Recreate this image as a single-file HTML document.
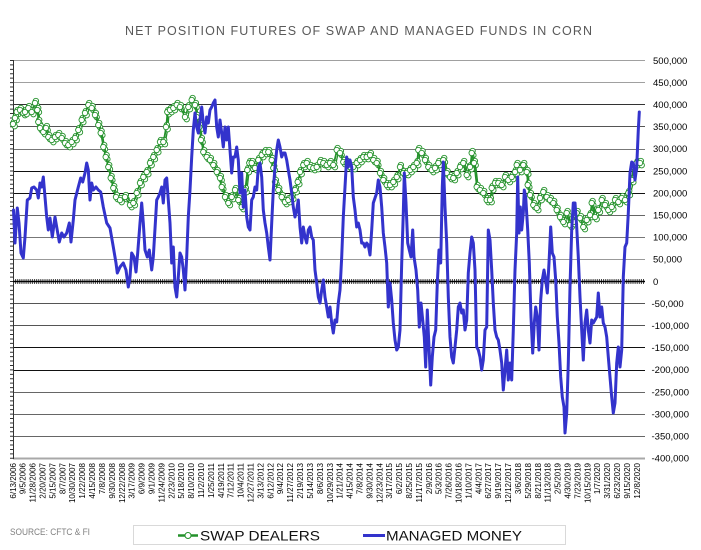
<!DOCTYPE html>
<html>
<head>
<meta charset="utf-8">
<style>
html,body{margin:0;padding:0;background:#fff;}
svg{display:block;}
text{font-family:"Liberation Sans",Arial,sans-serif;}
</style>
</head>
<body>
<svg width="701" height="550" viewBox="0 0 701 550" xmlns="http://www.w3.org/2000/svg" xmlns:xlink="http://www.w3.org/1999/xlink">
<defs>
<marker id="m" markerUnits="userSpaceOnUse" markerWidth="10" markerHeight="10" refX="5" refY="5" viewBox="0 0 10 10" overflow="visible">
<circle cx="5" cy="5" r="2.7" fill="#fff" stroke="#23912a" stroke-width="0.9"/>
</marker>
<polyline id="g" fill="none" stroke="#23912a" stroke-width="1.3" marker-start="url(#m)" marker-mid="url(#m)" marker-end="url(#m)" points="13,124 15,118 16.7,112 20,110 23.3,113 25,112 28.3,108 31.7,112 35,103 37.3,110 38.3,122 40,128 43.3,132 46,128 48.3,137 51.7,140 55,137 58.3,135 61.7,138 65,143 68.3,145 71.7,142 75,138 78.3,130 81.7,120 85,113 88.3,105 91.7,108 95,115 98.3,125 100.7,133 103.3,147 105.7,157 108.3,167 110.7,178 113.3,188 116,197 120,200 125,197 130,205 133.3,203 136.7,193 140,183 143.3,177 146.7,172 150,163 153.3,157 156.7,150 160,142 163.3,142 166,127 167.3,112 170,110 173.3,108 176.7,105 180,107 185,117 188.3,107 191.7,100 195,105 196.7,117 199.3,127 201,140 203.3,152 206.7,157 210,160 213.3,165 216.7,172 220,178 221.7,187 225,197 228.3,203 231.7,197 235,190 238.3,200 241.7,207 245,190 247.3,170 249.3,163 251.7,163 255,168 258.3,160 261.7,155 265,152 268.3,152 271.7,160 273.3,168 275,182 278.3,190 281.7,197 285,202 288.3,200 291.7,197 295,190 297.7,182 300,172 303.3,165 306.7,163 310,167 313.3,168 316.7,167 320,162 323.3,163 326.7,165 330,163 333.3,165 336.7,150 340,153 343.3,162 346.7,163 350,167 353.3,167 356.7,163 360,160 363.3,157 366.7,157 370,155 373.3,160 376.7,163 380,173 383.3,180 386.7,185 390,185 393.3,182 396.7,177 400,167 403.3,173 406.7,173 410,170 413.3,167 416.7,163 418.3,150 421.7,153 425,160 428.3,167 431.7,170 435,168 438.3,163 443.3,160 446.7,173 450,177 453.3,178 456.7,173 460,167 463.3,163 466.7,175 470,167 471.7,153 474,163 476.7,187 480,190 483.3,193 486.7,200 490,200 491.7,188 495,183 498.3,183 501.7,185 505,177 508.3,180 511.7,177 515,172 516.7,165 520,170 523.3,165 526.7,172 527.7,185 530,195 533.3,205 536.7,208 540,198 543.3,192 546.7,197 550,200 553.3,203 556.7,210 560,217 563.3,222 566.7,213 570,225 573.3,222 576.7,213 580,218 583.3,227 586.7,220 590,215 591.7,203 595,217 598.3,210 601.7,200 605,205 608.3,210 611.7,207 615,200 618.3,202 621.7,198 625,200 628.3,193 631.7,180 633.3,167 636.7,163 640,163"/>
</defs>
<rect width="701" height="550" fill="#fff"/>

<!-- Title -->
<text x="125" y="35" font-size="12.5" fill="#595959" textLength="467" lengthAdjust="spacing">NET POSITION FUTURES OF SWAP AND MANAGED FUNDS IN CORN</text>

<!-- gridlines -->
<g stroke-width="1" shape-rendering="crispEdges">
<line x1="13" x2="645" y1="60.5" y2="60.5" stroke="#a0a0a0"/>
<line x1="13" x2="645" y1="82.5" y2="82.5" stroke="#a0a0a0"/>
<line x1="13" x2="645" y1="104.5" y2="104.5" stroke="#333"/>
<line x1="13" x2="645" y1="126.5" y2="126.5" stroke="#555"/>
<line x1="13" x2="645" y1="149.5" y2="149.5" stroke="#777"/>
<line x1="13" x2="645" y1="171.5" y2="171.5" stroke="#111"/>
<line x1="13" x2="645" y1="193.5" y2="193.5" stroke="#111"/>
<line x1="13" x2="645" y1="215.5" y2="215.5" stroke="#666"/>
<line x1="13" x2="645" y1="237.5" y2="237.5" stroke="#777"/>
<line x1="13" x2="645" y1="259.5" y2="259.5" stroke="#999"/>
<line x1="13" x2="645" y1="303.5" y2="303.5" stroke="#555"/>
<line x1="13" x2="645" y1="325.5" y2="325.5" stroke="#555"/>
<line x1="13" x2="645" y1="347.5" y2="347.5" stroke="#111"/>
<line x1="13" x2="645" y1="370.5" y2="370.5" stroke="#111"/>
<line x1="13" x2="645" y1="392.5" y2="392.5" stroke="#666"/>
<line x1="13" x2="645" y1="414.5" y2="414.5" stroke="#666"/>
<line x1="13" x2="645" y1="436.5" y2="436.5" stroke="#666"/>
</g>
<line x1="13" x2="645" y1="458.5" y2="458.5" stroke="#a8a8a8" stroke-width="2"/>

<!-- left axis -->
<line x1="13.5" x2="13.5" y1="60" y2="459" stroke="#333" stroke-width="1"/>
<line x1="11.5" x2="11.5" y1="60" y2="459" stroke="#333" stroke-width="3" stroke-dasharray="1 3.42"/>

<!-- zero line with ticks -->
<line x1="13" x2="645" y1="281.5" y2="281.5" stroke="#444" stroke-width="5" stroke-dasharray="1 1.1"/>
<line x1="13" x2="645" y1="281.5" y2="281.5" stroke="#000" stroke-width="1.5"/>

<!-- right axis labels -->
<g font-size="9.5" fill="#000">
<text x="653" y="63.8">500,000</text>
<text x="653" y="85.9">450,000</text>
<text x="653" y="108">400,000</text>
<text x="653" y="130.1">350,000</text>
<text x="653" y="152.2">300,000</text>
<text x="653" y="174.3">250,000</text>
<text x="653" y="196.4">200,000</text>
<text x="653" y="218.5">150,000</text>
<text x="653" y="240.6">100,000</text>
<text x="653" y="262.7">50,000</text>
<text x="653" y="284.8">0</text>
<text x="651.5" y="306.9">-50,000</text>
<text x="651.5" y="329">-100,000</text>
<text x="651.5" y="351.1">-150,000</text>
<text x="651.5" y="373.2">-200,000</text>
<text x="651.5" y="395.3">-250,000</text>
<text x="651.5" y="417.4">-300,000</text>
<text x="651.5" y="439.5">-350,000</text>
<text x="651.5" y="461.6">-400,000</text>
</g>

<!-- Swap dealers (green circles), densified with offset copies -->
<use xlink:href="#g" href="#g" transform="translate(1.7,2.2)"/>
<use xlink:href="#g" href="#g" transform="translate(0.9,-2)"/>
<use xlink:href="#g" href="#g"/>

<!-- Managed money (blue) -->
<polyline fill="none" stroke="#3333cc" stroke-width="3" stroke-linejoin="round" stroke-linecap="round" points="13.5,210 15,243 17.3,208 19,223 21,253 23.3,258 25,237 27.3,200 30,198 31.7,188 34,187 36.7,190 38.3,198 40,183 41.7,187 43.3,177 45,197 46.7,217 48.3,230 50,218 52.3,237 55,217 56.7,227 59.3,242 61.7,233 64,237 66.7,233 69.3,223 71,242 73.3,220 75,200 78.3,187 80.7,178 82.7,182 85,173 86.7,163 88.3,170 90,200 91.7,183 93.3,190 96,187 98.3,190 100.7,192 103.3,207 106.7,223 110,228 113.3,247 116,263 117.3,273 120,267 123.3,263 126,270 128.3,287 130,277 131.7,253 134,257 136,272 137.7,253 140,223 141.7,203 143.3,223 145,250 147.3,257 149.3,250 151.7,270 153.3,257 155.7,217 156.7,200 158.3,197 160,193 161.7,187 163.3,203 165,180 166.7,178 168.3,200 170,223 171.7,263 173.3,247 175,287 176.7,297 178.3,277 180,253 181.7,257 183.3,270 185,290 186.7,257 188.3,217 190,190 191.7,157 193.3,130 195,113 196.7,127 198.3,133 200,120 201.7,107 203.3,123 205,133 206.7,117 208.3,123 210,110 211.7,107 213.3,103 215,100 216.7,127 218.3,137 220,120 221.7,133 223.3,147 225,127 226.7,140 228.3,127 230,150 231.7,173 233.3,157 235,157 236.7,147 238.3,160 240,193 241.7,173 243.3,207 245,190 246.7,217 248.3,227 250,230 251.7,200 253.3,197 255,187 256.7,190 258.3,167 260,163 261.7,177 263.3,210 265,223 266.7,233 268.3,247 270,260 271.7,223 273.3,190 275,167 276.7,150 278.3,140 280,147 281.7,157 283.3,153 285,153 286.7,160 288.3,170 290,180 291.7,193 293.3,207 295,217 296.7,210 298.3,200 300,227 301.7,243 303.3,227 305,237 306.7,243 308.3,230 310,227 311.7,237 313.3,240 315,270 316.7,283 318.3,297 320,303 321.7,290 323.3,280 325,297 326.7,307 328.3,317 330,307 331.7,323 333.3,333 335,320 336.7,322 338.3,303 340,290 341.7,257 343.3,217 345,187 346.7,157 348.3,167 350,160 351.7,167 353.3,197 355,210 356.7,227 358.3,223 360,230 361.7,243 363.3,243 365,247 366.7,243 368.3,245 370,255 371.7,230 373.3,203 375,198 376.7,193 378.3,180 380,187 381.7,207 383.3,233 385,247 386.7,263 388.3,307 390,283 391.7,300 393.3,323 395,340 396.7,350 398.3,347 400,330 401.7,263 403.3,213 404.3,173 406,203 407.7,243 409.3,250 411,257 412.7,230 414,257 416,270 417.7,290 419.3,327 421,303 422.7,320 424.3,337 425.7,367 427.3,310 429,347 430.7,385 432.3,357 434,337 435.7,330 437.3,283 439,250 440.7,263 442.3,187 443.3,162 445,207 446.7,243 448.3,297 450,337 451.7,357 453.3,363 455,347 456.7,330 458.3,307 460,303 461.7,313 463.3,310 465,330 466.7,320 468.3,273 470,253 471.7,237 473.3,243 475,270 476.7,347 478.3,350 480,357 481.7,370 483.3,360 485,330 486.7,327 488.3,230 490,240 491.7,270 493.3,303 495,330 496.7,337 498.3,340 500,350 501.7,363 503.3,390 505,370 506.7,350 508.3,380 510,363 511.7,380 513.3,330 515,270 516.7,233 517.7,177 519,233 520.3,207 521.7,230 523.3,213 524.3,190 525.7,197 527.7,230 529.3,263 531,317 532.7,353 534.3,323 535.7,307 537.3,317 539,350 540.7,300 542.3,280 544,270 545.7,280 547.3,293 549,263 550.7,227 552.3,253 554,257 555.7,280 557.3,317 559,343 560.7,377 562.3,397 564,407 565,433 566.7,413 568.3,363 570,287 571.7,230 573.3,203 575,203 576.7,227 578.3,257 580,297 581.7,330 583.3,360 585,323 586.7,310 588.3,330 590,343 591.7,320 593.3,323 595,320 596.7,317 598.3,293 600,317 601.7,307 603.3,323 605,327 606.7,337 608.3,357 610,377 611.7,397 613.3,413 615,403 616.7,363 618.3,347 620,367 621.7,350 623.3,277 625,247 626.7,243 628.3,213 630,173 631.7,162 633.3,163 635,180 636.7,167 638.3,130 639.3,112"/>

<!-- x-axis date labels -->
<g font-size="8" fill="#000" text-anchor="end">
<text transform="translate(15.8,463) rotate(-90)">6/13/2006</text>
<text transform="translate(25.7,463) rotate(-90)">9/5/2006</text>
<text transform="translate(35.6,463) rotate(-90)">11/28/2006</text>
<text transform="translate(45.5,463) rotate(-90)">2/20/2007</text>
<text transform="translate(55.4,463) rotate(-90)">5/15/2007</text>
<text transform="translate(65.3,463) rotate(-90)">8/7/2007</text>
<text transform="translate(75.2,463) rotate(-90)">10/30/2007</text>
<text transform="translate(85.1,463) rotate(-90)">1/22/2008</text>
<text transform="translate(95.0,463) rotate(-90)">4/15/2008</text>
<text transform="translate(104.9,463) rotate(-90)">7/8/2008</text>
<text transform="translate(114.9,463) rotate(-90)">9/30/2008</text>
<text transform="translate(124.8,463) rotate(-90)">12/22/2008</text>
<text transform="translate(134.7,463) rotate(-90)">3/17/2009</text>
<text transform="translate(144.6,463) rotate(-90)">6/9/2009</text>
<text transform="translate(154.5,463) rotate(-90)">9/1/2009</text>
<text transform="translate(164.4,463) rotate(-90)">11/24/2009</text>
<text transform="translate(174.3,463) rotate(-90)">2/23/2010</text>
<text transform="translate(184.2,463) rotate(-90)">5/18/2010</text>
<text transform="translate(194.1,463) rotate(-90)">8/10/2010</text>
<text transform="translate(204.0,463) rotate(-90)">11/2/2010</text>
<text transform="translate(213.9,463) rotate(-90)">1/25/2011</text>
<text transform="translate(223.8,463) rotate(-90)">4/19/2011</text>
<text transform="translate(233.7,463) rotate(-90)">7/12/2011</text>
<text transform="translate(243.6,463) rotate(-90)">10/4/2011</text>
<text transform="translate(253.5,463) rotate(-90)">12/27/2011</text>
<text transform="translate(263.4,463) rotate(-90)">3/13/2012</text>
<text transform="translate(273.3,463) rotate(-90)">6/12/2012</text>
<text transform="translate(283.2,463) rotate(-90)">9/4/2012</text>
<text transform="translate(293.1,463) rotate(-90)">11/27/2012</text>
<text transform="translate(303.0,463) rotate(-90)">2/19/2013</text>
<text transform="translate(313.0,463) rotate(-90)">5/14/2013</text>
<text transform="translate(322.9,463) rotate(-90)">8/6/2013</text>
<text transform="translate(332.8,463) rotate(-90)">10/29/2013</text>
<text transform="translate(342.7,463) rotate(-90)">1/21/2014</text>
<text transform="translate(352.6,463) rotate(-90)">4/15/2014</text>
<text transform="translate(362.5,463) rotate(-90)">7/8/2014</text>
<text transform="translate(372.4,463) rotate(-90)">9/30/2014</text>
<text transform="translate(382.3,463) rotate(-90)">12/23/2014</text>
<text transform="translate(392.2,463) rotate(-90)">3/17/2015</text>
<text transform="translate(402.1,463) rotate(-90)">6/2/2015</text>
<text transform="translate(412.0,463) rotate(-90)">8/25/2015</text>
<text transform="translate(421.9,463) rotate(-90)">11/17/2015</text>
<text transform="translate(431.8,463) rotate(-90)">2/9/2016</text>
<text transform="translate(441.7,463) rotate(-90)">5/3/2016</text>
<text transform="translate(451.6,463) rotate(-90)">7/26/2016</text>
<text transform="translate(461.5,463) rotate(-90)">10/18/2016</text>
<text transform="translate(471.4,463) rotate(-90)">1/10/2017</text>
<text transform="translate(481.3,463) rotate(-90)">4/4/2017</text>
<text transform="translate(491.2,463) rotate(-90)">6/27/2017</text>
<text transform="translate(501.1,463) rotate(-90)">9/19/2017</text>
<text transform="translate(511.1,463) rotate(-90)">12/12/2017</text>
<text transform="translate(521.0,463) rotate(-90)">3/6/2018</text>
<text transform="translate(530.9,463) rotate(-90)">5/29/2018</text>
<text transform="translate(540.8,463) rotate(-90)">8/21/2018</text>
<text transform="translate(550.7,463) rotate(-90)">11/13/2018</text>
<text transform="translate(560.6,463) rotate(-90)">2/5/2019</text>
<text transform="translate(570.5,463) rotate(-90)">4/30/2019</text>
<text transform="translate(580.4,463) rotate(-90)">7/23/2019</text>
<text transform="translate(590.3,463) rotate(-90)">10/15/2019</text>
<text transform="translate(600.2,463) rotate(-90)">1/7/2020</text>
<text transform="translate(610.1,463) rotate(-90)">3/31/2020</text>
<text transform="translate(620.0,463) rotate(-90)">6/23/2020</text>
<text transform="translate(629.9,463) rotate(-90)">9/15/2020</text>
<text transform="translate(639.8,463) rotate(-90)">12/8/2020</text>
</g>

<!-- source -->
<text x="10" y="535" font-size="9.5" fill="#7f7f7f" textLength="80" lengthAdjust="spacingAndGlyphs">SOURCE: CFTC &amp; FI</text>

<!-- legend -->
<rect x="133.5" y="525.5" width="432" height="19" fill="#fff" stroke="#d9d9d9" stroke-width="1"/>
<line x1="178" x2="198" y1="535.5" y2="535.5" stroke="#23912a" stroke-width="2.5"/>
<circle cx="188" cy="535.5" r="3" fill="#fff" stroke="#23912a" stroke-width="1"/>
<text x="200" y="540.5" font-size="14" fill="#111" textLength="120" lengthAdjust="spacingAndGlyphs">SWAP DEALERS</text>
<line x1="363" x2="385" y1="535.5" y2="535.5" stroke="#3333cc" stroke-width="3"/>
<text x="386" y="540.5" font-size="14" fill="#111" textLength="136" lengthAdjust="spacingAndGlyphs">MANAGED MONEY</text>
</svg>
</body>
</html>
